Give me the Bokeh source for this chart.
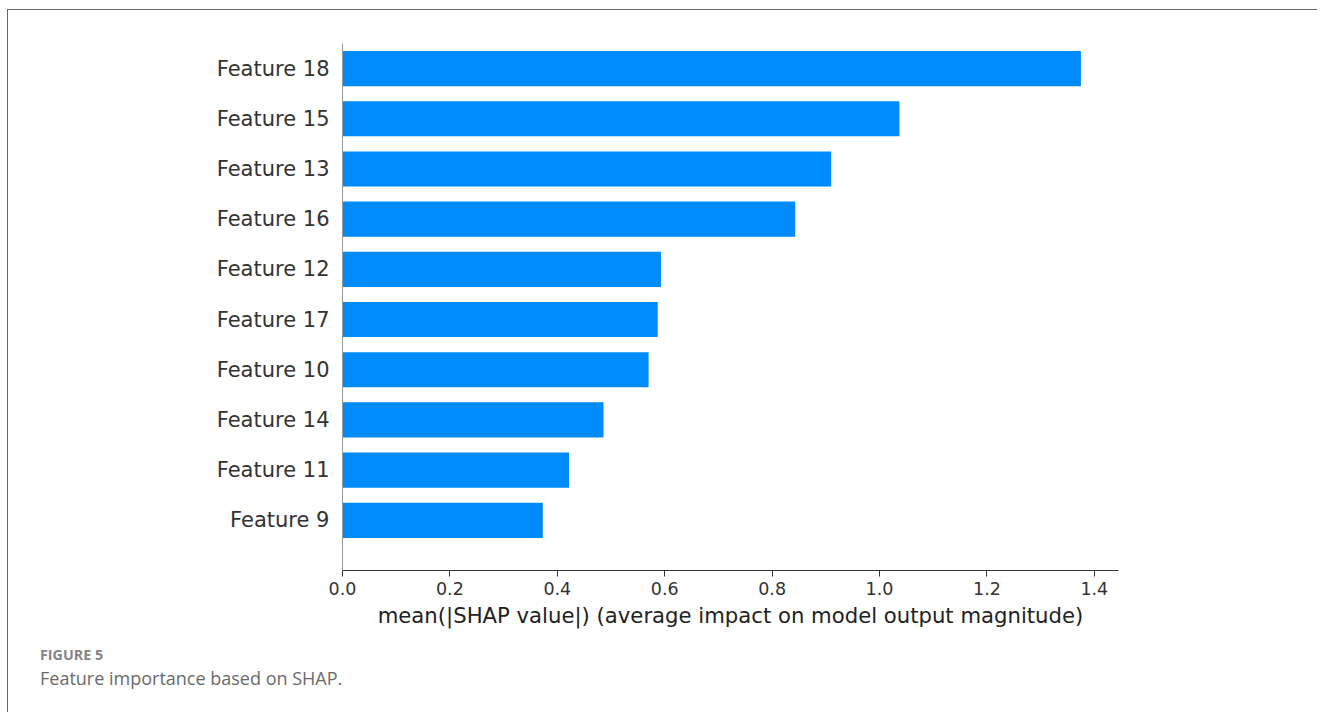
from bokeh.plotting import figure
from bokeh.models import FixedTicker, Range1d, Title, PrintfTickFormatter
from bokeh.embed import file_html
from bokeh.resources import INLINE

features = ["Feature 18", "Feature 15", "Feature 13", "Feature 16", "Feature 12",
            "Feature 17", "Feature 10", "Feature 14", "Feature 11", "Feature 9"]
importance = [1.375, 1.037, 0.910, 0.843, 0.593, 0.587, 0.570, 0.486, 0.422, 0.373]
x_ticks = [0.0, 0.2, 0.4, 0.6, 0.8, 1.0, 1.2, 1.4]
x_label = "mean(|SHAP value|) (average impact on model output magnitude)"
caption_head = "FIGURE 5"
caption_text = "Feature importance based on SHAP."

n = len(features)
ypos = [n - 1 - i for i in range(n)]

# page frame: margin + border drawn by CSS on the figure's host element
OFF_X = 8.5
W, H = 1310, 703
FRAME_L, FRAME_T, FRAME_B, FRAME_R = 334, 33, 560, 1110
p = figure(width=W, height=H, output_backend="svg", toolbar_location=None,
           x_range=Range1d(0, 1.445), y_range=Range1d(-1, 9.5),
           min_border_left=FRAME_L, min_border_right=W - FRAME_R,
           min_border_top=FRAME_T, min_border_bottom=H - FRAME_B)
p.styles = {"margin-left": "7px", "margin-top": "9px",
            "border-left": "1.5px solid #666666", "border-top": "1.5px solid #666666"}
p.outline_line_color = None
p.grid.visible = False
p.background_fill_color = "white"
p.border_fill_color = "white"

p.hbar(y=ypos, right=importance, left=0, height=0.7, color="#008bfb", line_color=None)

# x axis
xa = p.xaxis[0]
xa.ticker = FixedTicker(ticks=x_ticks)
xa.formatter = PrintfTickFormatter(format="%.1f")
xa.minor_tick_line_color = None
xa.major_tick_out = 6
xa.major_tick_in = 0
xa.axis_line_color = "#333333"
xa.major_tick_line_color = "#333333"
xa.axis_line_width = 1.2
xa.major_label_text_font = "DejaVu Sans"
xa.major_label_text_font_size = "17.5px"
xa.major_label_text_color = "#333333"
xa.major_label_standoff = 5
xa.axis_label = x_label
xa.axis_label_text_font = "DejaVu Sans"
xa.axis_label_text_font_size = "21.2px"
xa.axis_label_text_font_style = "normal"
xa.axis_label_text_color = "#222222"
xa.axis_label_standoff = 5

# y axis
ya = p.yaxis[0]
ya.ticker = FixedTicker(ticks=ypos)
ya.major_label_overrides = {y: f for y, f in zip(ypos, features)}
ya.major_tick_line_color = None
ya.minor_tick_line_color = None
ya.axis_line_color = "#999999"
ya.axis_line_width = 1
ya.major_label_text_font = "DejaVu Sans"
ya.major_label_text_font_size = "21px"
ya.major_label_text_color = "#333333"
ya.major_label_standoff = 7

# caption as titles below the x axis, shifted left to the page margin
cap_offset = 40 - (OFF_X + FRAME_L)
p.add_layout(Title(text=caption_head, align="left", offset=cap_offset,
                   text_font="Open Sans", text_font_size="14.3px", text_font_style="bold",
                   text_color="#858585", standoff=24.6), "below")
p.add_layout(Title(text=caption_text, align="left", offset=cap_offset,
                   text_font="Open Sans", text_font_size="18px", text_font_style="normal",
                   text_color="#6a6a6a", standoff=-25), "below")

open("out.html", "w").write(file_html(p, INLINE))
